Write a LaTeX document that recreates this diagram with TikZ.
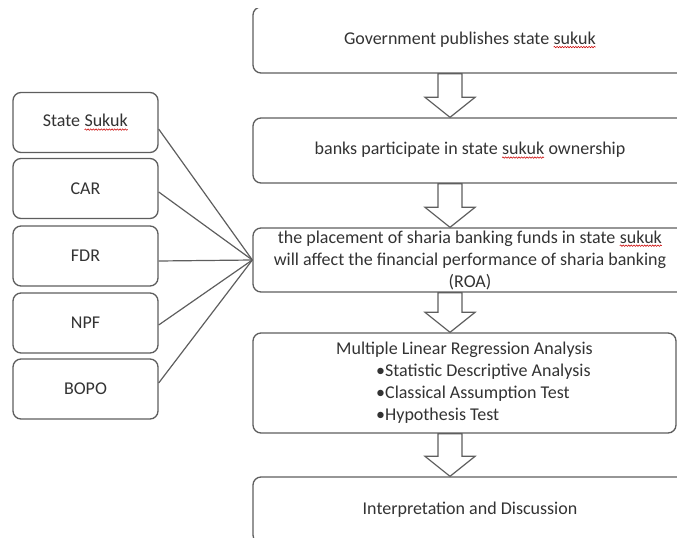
\documentclass[tikz,border=0pt]{standalone}
\usepackage{fontspec}
\setmainfont{Carlito}
\usetikzlibrary{calc,decorations.pathmorphing}
\definecolor{edge}{HTML}{5E5E5E}
\definecolor{ink}{HTML}{333333}
\tikzset{
  box/.style={draw=edge, line width=1pt, rounded corners=6pt, fill=white, text=ink,
    font=\fontsize{13.5}{16.5}\selectfont, align=center, inner sep=0pt},
  bigbox/.style={box, minimum width=325.5pt},
  smallbox/.style={box, minimum width=108.75pt, minimum height=45pt},
  link/.style={draw=edge, line width=0.9pt},
  bigarrow/.style={draw=edge, line width=0.9pt, fill=white, line join=miter},
  squig/.style={draw=red!80!black, fill=none, sharp corners, line width=0.4pt, decorate,
    decoration={snake, amplitude=0.55pt, segment length=2pt}}
}
\newcommand\sq[1]{\tikz[baseline=(w.base)]{\node[inner sep=0pt,outer sep=0pt,minimum width=0pt,minimum height=0pt,draw=none,fill=none,sharp corners,shape=rectangle](w){#1};\path[squig] ([yshift=-2pt]w.base west) -- ([yshift=-2pt]w.base east);}}
\newcommand\blockarrow[2]{\draw[bigarrow] let \p1=(#1.south), \p2=(#2.north), \p3=(ax) in
  (\x3-9pt,\y1) -- (\x3+9pt,\y1) -- (\x3+9pt,\y2+15pt) -- (\x3+18.75pt,\y2+15pt) --
  (\x3,\y2) -- (\x3-18.75pt,\y2+15pt) -- (\x3-9pt,\y2+15pt) -- cycle;}
\begin{document}
\begin{tikzpicture}[x=0.75pt,y=-0.75pt]
\useasboundingbox (0,0) rectangle (677,538);
\clip (0,9) rectangle (677,538);
\coordinate (ax) at (450,0);
% right column
\node[bigbox, minimum height=49.5pt] (b1) at (470,40) {Government publishes state \sq{sukuk}};
\node[bigbox, minimum height=48.75pt] (b2) at (470,150.5) {banks participate in state \sq{sukuk} ownership};
\node[bigbox, minimum height=48pt] (b3) at (470,260) {the placement of sharia banking funds in state \sq{sukuk}\\will affect the financial performance of sharia banking\\(ROA)};
\node[box, minimum width=317.25pt, minimum height=75pt, align=left] (b4) at (464.5,383)
  {Multiple Linear Regression Analysis\\\hspace*{30pt}•Statistic Descriptive Analysis\\\hspace*{30pt}•Classical Assumption Test\\\hspace*{30pt}•Hypothesis Test};
\node[bigbox, minimum height=49.5pt] (b5) at (470,510) {Interpretation and Discussion};
% left column
\node[smallbox] (s1) at (85.5,122.5) {State \sq{Sukuk}};
\node[smallbox] (s2) at (85.5,188.5) {CAR};
\node[smallbox] (s3) at (85.5,256) {FDR};
\node[smallbox] (s4) at (85.5,323) {NPF};
\node[smallbox] (s5) at (85.5,389) {BOPO};
% connectors
\coordinate (hub) at (b3.west);
\draw[link] ([yshift=-4.9pt]s1.east) -- (hub);
\draw[link] ([yshift=-2.6pt]s2.east) -- (hub);
\draw[link] ([yshift=-3.75pt]s3.east) -- (hub);
\draw[link] ([yshift=-1.5pt]s4.east) -- (hub);
\draw[link] ([yshift=4.5pt]s5.east) -- (hub);
% block arrows
\blockarrow{b1}{b2}
\blockarrow{b2}{b3}
\blockarrow{b3}{b4}
\blockarrow{b4}{b5}
\end{tikzpicture}
\end{document}
